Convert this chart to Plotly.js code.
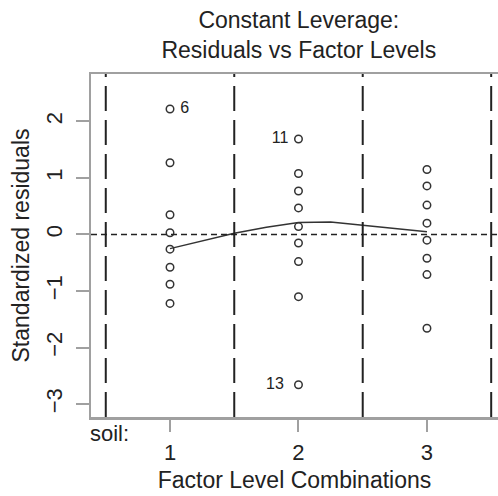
<!DOCTYPE html>
<html>
<head>
<meta charset="utf-8">
<script src="https://cdn.plot.ly/plotly-3.0.1.min.js"></script>
<style>html,body{margin:0;padding:0;background:#fff;}#chart{width:498px;height:496px;}</style>
</head>
<body>
<div id="chart"></div>
<script>
// Factor level (soil) of each observation
var soilLevel = [1,1,1,1,1,1,1,1, 2,2,2,2,2,2,2,2,2, 3,3,3,3,3,3,3,3];
// Standardized residuals
var stdResid = [2.22,1.27,0.35,0.03,-0.26,-0.58,-0.88,-1.22,
                1.69,1.08,0.77,0.47,0.14,-0.15,-0.48,-1.10,-2.66,
                1.15,0.86,0.52,0.20,-0.10,-0.42,-0.71,-1.66];
// Observation labels for the extreme points
var pointLabels = ['\u00a06','','','','','','','', '11\u00a0','','','','','','','','13\u00a0\u00a0', '','','','','','','',''];
var labelSide = ['middle right','','','','','','','', 'middle left','','','','','','','','middle left', '','','','','','','',''];
// Smoothed trend line
var smoothX = [1,1.25,1.5,1.75,2,2.25,2.5,2.75,3];
var smoothY = [-0.25,-0.11,0.02,0.13,0.21,0.22,0.16,0.10,0.05];
// Level boundaries and tick labels
var boundaries = [0.5,1.5,2.5,3.5];
var levelTicks = [1,2,3];
var levelTickText = ['1','2','3'];
var residTicks = [-3,-2,-1,0,1,2];
var residTickText = ['\u22123','\u22122','\u22121','0','1','2'];

var FONT = 'Liberation Sans, Arial, sans-serif';
var AXC = '#a0a0a0';

var traces = [
  {
    x: smoothX, y: smoothY, type: 'scatter', mode: 'lines',
    line: {color: '#333', width: 1.5}, hoverinfo: 'skip', showlegend: false
  },
  {
    x: soilLevel, y: stdResid, type: 'scatter', mode: 'markers+text',
    text: pointLabels, textposition: labelSide,
    textfont: {family: FONT, size: 16, color: '#222'},
    marker: {symbol: 'circle-open', size: 7.5, color: '#333', line: {width: 1.5, color: '#333'}},
    showlegend: false
  }
];

var shapes = boundaries.map(function(b){
  return {type: 'line', xref: 'x', yref: 'paper', x0: b, x1: b, y0: 0, y1: 1,
          line: {color: '#222', width: 2, dash: '25px,9px'}};
});
shapes.push({type: 'line', xref: 'paper', yref: 'y', x0: 0, x1: 1, y0: 0, y1: 0,
             line: {color: '#222', width: 1.5, dash: '6px,4px'}});

var layout = {
  width: 498, height: 496,
  margin: {l: 91, r: 0, t: 74, b: 79},
  paper_bgcolor: '#fff', plot_bgcolor: '#fff',
  font: {family: FONT, color: '#222'},
  title: {
    text: 'Constant Leverage:<br>Residuals vs Factor Levels',
    font: {family: FONT, size: 23, color: '#222'},
    x: 0.6, xref: 'container', xanchor: 'center', y: 0.944, yanchor: 'top'
  },
  xaxis: {
    range: [0.385, 3.553], tickmode: 'array', tickvals: levelTicks, ticktext: levelTickText,
    showgrid: false, zeroline: false, showline: true, linecolor: AXC, linewidth: 2.5,
    mirror: true, ticks: 'outside', ticklen: 12, tickwidth: 2, tickcolor: AXC,
    tickfont: {family: FONT, size: 22, color: '#222'}, ticklabelstandoff: 2,
    title: {text: 'Factor Level Combinations', font: {family: FONT, size: 23, color: '#222'}, standoff: 8}
  },
  yaxis: {
    range: [-3.23, 2.84], tickmode: 'array', tickvals: residTicks, ticktext: residTickText,
    showgrid: false, zeroline: false, showline: true, linecolor: AXC, linewidth: 2.5,
    ticks: 'outside', ticklen: 13, tickwidth: 2, tickcolor: AXC, tickangle: -90,
    tickfont: {family: FONT, size: 22, color: '#222'}, ticklabelstandoff: 5,
    title: {text: 'Standardized residuals', font: {family: FONT, size: 23, color: '#222'}, standoff: 6}
  },
  shapes: shapes,
  annotations: [
    {text: 'soil:', xref: 'paper', yref: 'paper', x: (109-91)/407, y: -(433-417)/343,
     xanchor: 'center', yanchor: 'middle', showarrow: false,
     font: {family: FONT, size: 22, color: '#222'}}
  ]
};

Plotly.newPlot('chart', traces, layout, {displayModeBar: false, staticPlot: true});
</script>
</body>
</html>
